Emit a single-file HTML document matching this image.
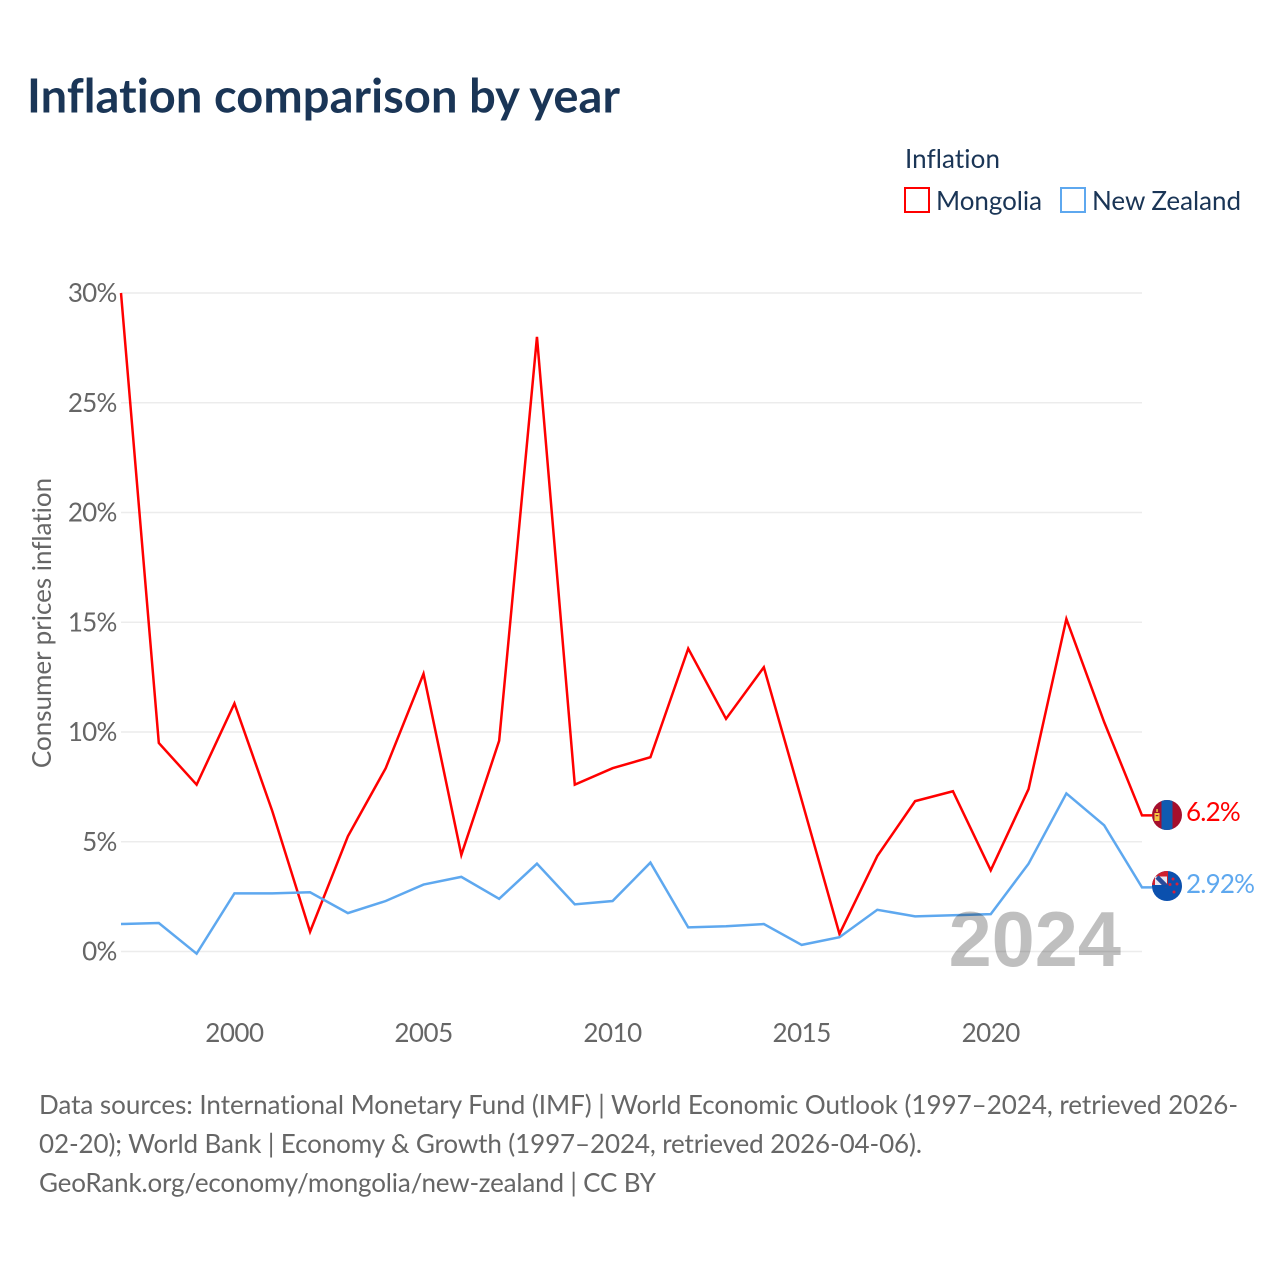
<!DOCTYPE html>
<html lang="en">
<head>
<meta charset="utf-8">
<title>Inflation comparison by year</title>
<style>
html,body{margin:0;padding:0;background:#fff;width:1280px;height:1280px;overflow:hidden}
svg{display:block}
text{font-family:"Lato","Carlito","Liberation Sans",sans-serif;font-variant-ligatures:none;font-feature-settings:"liga" 0,"clig" 0}
</style>
</head>
<body>
<svg id="chart" xmlns="http://www.w3.org/2000/svg" width="1280" height="1280" viewBox="0 0 1280 1280">
  <rect x="0" y="0" width="1280" height="1280" fill="#ffffff"/>
  <text x="27" y="112.500" font-size="47" font-weight="700" fill="#1a3556" textLength="593" lengthAdjust="spacing">Inflation comparison by year</text>
  <text x="905" y="168" font-size="26" fill="#1a3556" textLength="95">Inflation</text>
  <rect x="905" y="188" width="24" height="24" fill="#fff" stroke="#ff0000" stroke-width="2"/>
  <text x="936" y="210" font-size="26" fill="#1a3556" textLength="106">Mongolia</text>
  <rect x="1061" y="188" width="24" height="24" fill="#fff" stroke="#5ea8ef" stroke-width="2"/>
  <text x="1092" y="210" font-size="26" fill="#1a3556" textLength="149">New Zealand</text>
  <text transform="translate(51,623) rotate(-90)" text-anchor="middle" font-size="26" fill="#666666">Consumer prices inflation</text>
  <g id="grid"></g>
  <g id="yticks"></g>
  <g id="xticks"></g>
  <g id="series"></g>
  <text x="1121" y="966" text-anchor="end" font-size="77.500" font-weight="700" fill="#000000" fill-opacity="0.25" style="font-family:'Liberation Sans',sans-serif">2024</text>
  <defs>
    <clipPath id="flag-mn"><circle cx="1167" cy="815" r="15"/></clipPath>
    <clipPath id="flag-nz"><circle cx="1167" cy="886" r="15"/></clipPath>
  </defs>
  <g clip-path="url(#flag-mn)">
    <rect x="1152" y="800" width="30" height="30" fill="#a50f2d"/>
    <rect x="1161.500" y="800" width="11" height="30" fill="#0f5bb0"/>
    <rect x="1154.500" y="813" width="5" height="8" fill="#f4c542"/>
    <rect x="1155.700" y="815" width="2.600" height="1.200" fill="#a50f2d"/>
    <rect x="1156.300" y="809" width="1.500" height="3" fill="#f4c542"/>
  </g>
  <g clip-path="url(#flag-nz)">
    <rect x="1152" y="871" width="30" height="30" fill="#0b50ae"/>
    <rect x="1152" y="871" width="16" height="16" fill="#d0202f"/>
    <rect x="1155" y="876.500" width="12" height="10.500" fill="#e8e8f0"/>
    <path d="M1157 877 L1167 887" stroke="#2a4a9a" stroke-width="4.500"/>
    <rect x="1152" y="885" width="16" height="2" fill="#0b50ae"/>
    <circle cx="1173" cy="879" r="1.500" fill="#d8203a"/>
    <circle cx="1177" cy="884" r="1.500" fill="#d8203a"/>
    <circle cx="1170" cy="884.500" r="1.500" fill="#d8203a"/>
    <circle cx="1174" cy="892" r="1.500" fill="#d8203a"/>
  </g>
  <g font-size="26" fill="#666666">
    <text x="39" y="1114" textLength="1199">Data sources: International Monetary Fund (IMF) | World Economic Outlook (1997–2024, retrieved 2026-</text>
    <text x="39" y="1153" textLength="883">02-20); World Bank | Economy &amp; Growth (1997–2024, retrieved 2026-04-06).</text>
    <text x="39" y="1192" textLength="617">GeoRank.org/economy/mongolia/new-zealand | CC BY</text>
  </g>
</svg>
<script>
const years = [1997,1998,1999,2000,2001,2002,2003,2004,2005,2006,2007,2008,2009,2010,2011,2012,2013,2014,2015,2016,2017,2018,2019,2020,2021,2022,2023,2024];
const mongolia = [30,9.5,7.6,11.3,6.4,0.9,5.25,8.35,12.65,4.4,9.6,28,7.6,8.35,8.85,13.8,10.6,12.95,6.9,0.8,4.35,6.85,7.3,3.7,7.4,15.15,10.45,6.2];
const newZealand = [1.25,1.3,-0.1,2.65,2.65,2.7,1.75,2.3,3.05,3.4,2.4,4.0,2.15,2.3,4.05,1.1,1.15,1.25,0.3,0.65,1.9,1.6,1.65,1.7,4.0,7.2,5.75,2.92];
const yTicks = [0,5,10,15,20,25,30];
const xTicks = [2000,2005,2010,2015,2020];
const endLabels = ["6.2%","2.92%"];

const NS = "http://www.w3.org/2000/svg";
function xScale(year){ return 121 + (year - 1997) * (1142 - 121) / 27; }
function yScale(v){ return 951.5 - v * (951.5 - 293) / 30; }
function make(tag, attrs, parent){
  const el = document.createElementNS(NS, tag);
  for (const k in attrs) el.setAttribute(k, attrs[k]);
  parent.appendChild(el);
  return el;
}
const grid = document.getElementById('grid');
const yG = document.getElementById('yticks');
const xG = document.getElementById('xticks');
const seriesG = document.getElementById('series');
const chart = document.getElementById('chart');

yTicks.forEach(function(t){
  const line = make('line', {x1:121, x2:1142, y1:yScale(t), y2:yScale(t), stroke:'#ececec', 'stroke-width':1.5}, grid);
  
  
  const label = make('text', {x:116.5, y:yScale(t)+9, 'text-anchor':'end', 'font-size':26, fill:'#666666', 'letter-spacing':-0.8}, yG);
  
  
  label.textContent = t + '%';
});
xTicks.forEach(function(t){
  const label = make('text', {x:xScale(t), y:1042, 'text-anchor':'middle', 'font-size':26, fill:'#666666', 'letter-spacing':-0.5}, xG);
  
  
  label.textContent = t;
});
function drawSeries(values, color, name, labelText, labelY){
  const pts = values.map(function(v,i){ return xScale(years[i]).toFixed(2) + ',' + yScale(v).toFixed(2); });
  const last = values[values.length-1];
  pts.push('1152,' + yScale(last).toFixed(2));
  const line = make('polyline', {points:pts.join(' '), fill:'none', stroke:color, 'stroke-width':2.5, 'stroke-linejoin':'miter'}, seriesG);
  
  
  const label = make('text', {x:1186, y:labelY, 'font-size':26, fill:color, 'letter-spacing':-0.8}, chart);
  
  
  label.textContent = labelText;
}
drawSeries(mongolia, '#ff0000', 'mongolia', endLabels[0], 821);
drawSeries(newZealand, '#5ea8ef', 'new-zealand', endLabels[1], 893);
</script>
</body>
</html>
